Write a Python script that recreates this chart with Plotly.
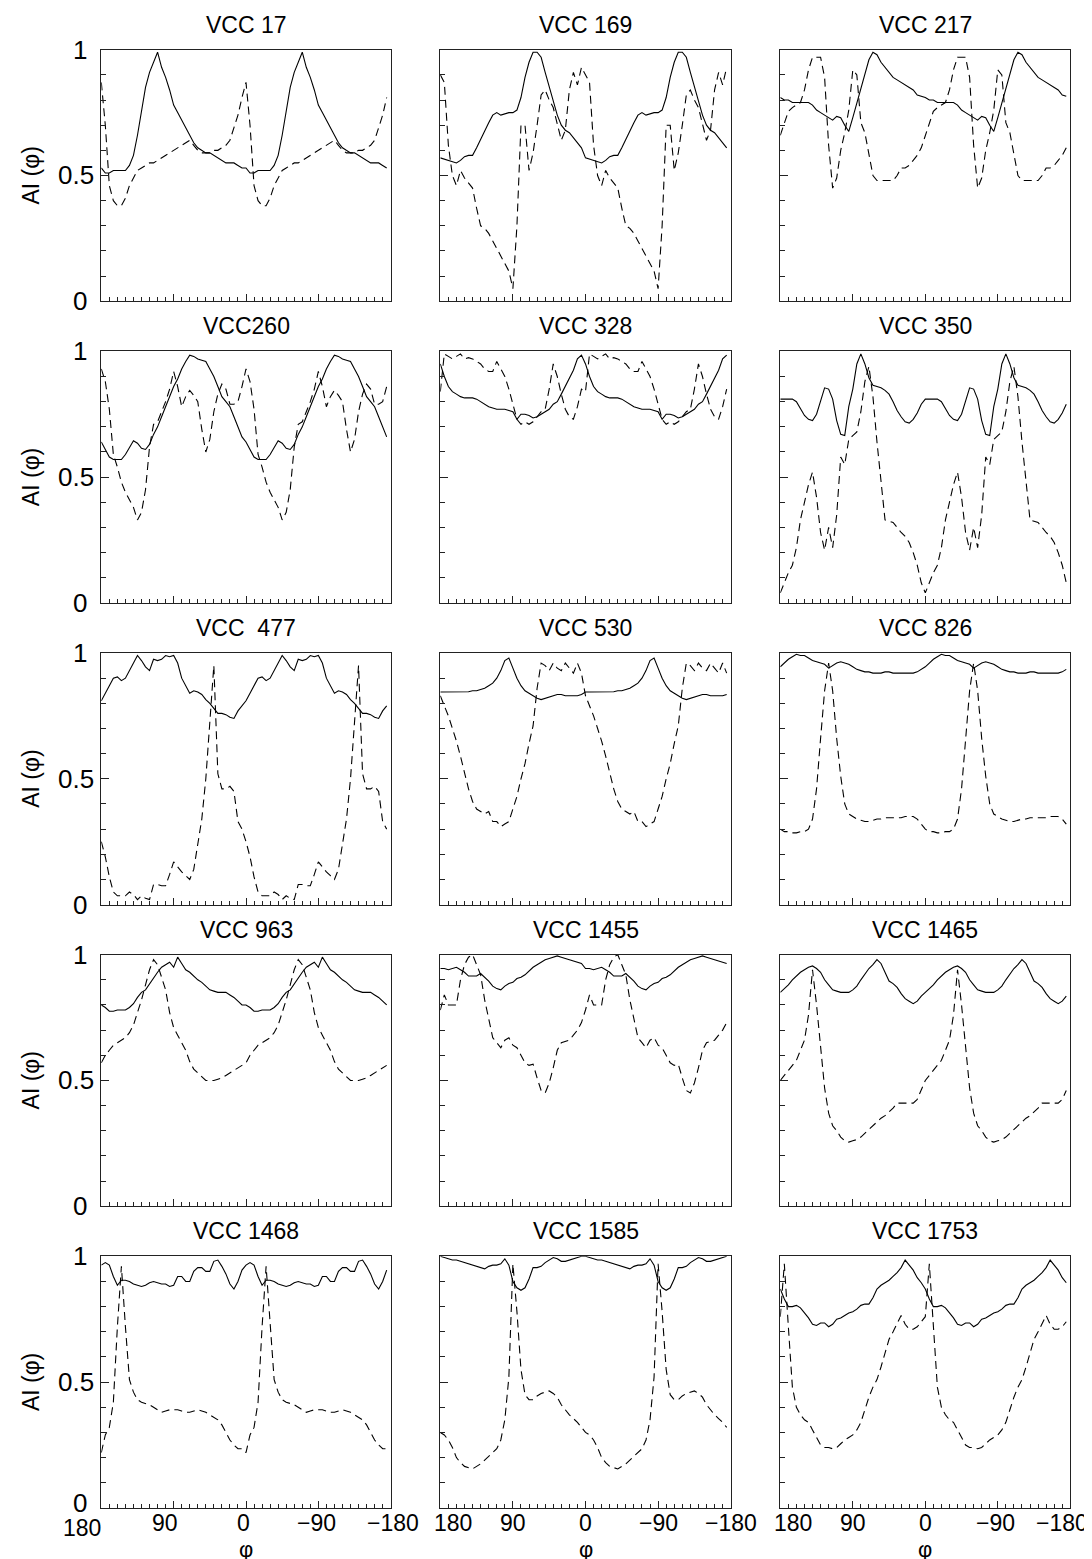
import plotly.graph_objects as go

# phi grid for one half-period (180 -> 5 deg); the profiles repeat every 180 deg
PHI_HALF = [180, 175, 170, 165, 160, 155, 150, 145, 140, 135,
            130, 125, 120, 115, 110, 105, 100, 95, 90, 85,
            80, 75, 70, 65, 60, 55, 50, 45, 40, 35,
            30, 25, 20, 15, 10, 5]

X_TICKS = [180, 90, 0, -90, -180]
X_TICKTEXT = ["180", "90", "0", "\u221290", "\u2212180"]
Y_TICKS = [0, 0.5, 1]
Y_TICKTEXT = ["0", "0.5", "1"]

TITLES = ["VCC 17", "VCC 169", "VCC 217",
          "VCC260", "VCC 328", "VCC 350",
          "VCC\u00a0\u00a0477", "VCC 530", "VCC 826",
          "VCC 963", "VCC 1455", "VCC 1465",
          "VCC 1468", "VCC 1585", "VCC 1753"]

VCC17_S = [.53, .51, .51, .52, .52, .52, .52, .54, .58, .66, .76, .85, .91, .95, .99, .93, .89, .84, .78, .75,
           .72, .69, .66, .63, .61, .60, .59, .59, .58, .57, .56, .55, .55, .55, .54, .53]
VCC17_D = [.87, .70, .46, .40, .38, .38, .41, .46, .49, .52, .53, .54, .55, .55, .56, .57, .58, .59, .60, .61,
           .62, .63, .64, .62, .60, .59, .59, .59, .60, .60, .61, .62, .64, .69, .74, .81]

VCC169_S = [.57, .565, .56, .555, .55, .56, .575, .58, .58, .61, .645, .68, .71, .74, .75, .74, .745, .75, .75, .76,
            .81, .89, .95, .99, .99, .97, .91, .85, .80, .74, .70, .68, .67, .65, .63, .61]
VCC169_D = [.90, .87, .62, .50, .46, .52, .49, .47, .45, .37, .30, .29, .27, .24, .21, .18, .15, .12, .05, .30,
            .70, .70, .52, .59, .70, .82, .84, .80, .77, .70, .64, .68, .84, .91, .86, .93]

VCC217_S = [.81, .80, .80, .79, .79, .79, .79, .79, .78, .76, .75, .74, .73, .72, .735, .73, .70, .675, .73, .79,
            .84, .90, .96, .99, .98, .95, .93, .91, .89, .88, .87, .86, .85, .84, .82, .815]
VCC217_D = [.66, .71, .755, .77, .78, .79, .84, .92, .97, .97, .97, .89, .62, .45, .49, .60, .67, .76, .92, .90,
            .71, .67, .59, .50, .48, .48, .48, .48, .48, .50, .53, .53, .54, .56, .58, .61]

VCC260_S = [.64, .61, .58, .57, .57, .57, .59, .62, .645, .635, .615, .61, .63, .67, .70, .74, .78, .82, .86, .89,
            .93, .96, .985, .98, .97, .965, .96, .93, .90, .86, .82, .80, .78, .74, .70, .66]
VCC260_D = [.93, .88, .77, .59, .54, .48, .44, .41, .38, .33, .36, .45, .62, .71, .72, .76, .80, .85, .92, .86,
            .78, .82, .845, .825, .80, .69, .60, .65, .76, .83, .87, .85, .79, .79, .80, .86]

VCC328_S = [.95, .90, .86, .84, .83, .82, .815, .815, .815, .81, .80, .79, .78, .775, .77, .77, .77, .765, .76, .73,
            .75, .75, .745, .735, .74, .75, .76, .77, .79, .80, .83, .86, .89, .925, .97, .985]
VCC328_D = [.84, .99, .98, .97, .98, .99, .97, .975, .97, .96, .95, .93, .92, .92, .96, .93, .90, .85, .79, .73,
            .71, .72, .71, .72, .74, .76, .77, .85, .95, .90, .83, .77, .74, .73, .78, .85]

VCC350_S = [.81, .81, .81, .81, .80, .775, .745, .73, .725, .75, .80, .855, .85, .81, .725, .67, .665, .78, .85, .95,
            .99, .95, .895, .865, .86, .855, .845, .83, .80, .765, .74, .72, .715, .73, .755, .79]
VCC350_D = [.04, .08, .12, .15, .22, .33, .40, .47, .52, .42, .28, .21, .30, .22, .35, .58, .55, .65, .665, .68,
            .76, .88, .94, .82, .64, .47, .33, .325, .32, .30, .28, .265, .24, .20, .15, .08]

VCC477_S = [.81, .84, .87, .90, .905, .89, .90, .93, .96, .99, .97, .945, .93, .975, .97, .975, .99, .985, .99, .96,
            .90, .87, .84, .85, .845, .835, .815, .80, .78, .76, .76, .755, .745, .74, .77, .79]
VCC477_D = [.25, .19, .11, .05, .035, .035, .035, .05, .04, .02, .035, .025, .02, .08, .08, .075, .075, .12, .17, .15,
            .13, .115, .10, .14, .24, .34, .50, .72, .95, .52, .46, .46, .47, .45, .33, .30]

VCC530_S = [.845, .845, .845, .845, .845, .845, .845, .846, .85, .85, .855, .86, .87, .88, .90, .93, .97, .98, .94, .90,
            .87, .85, .84, .83, .82, .815, .82, .825, .83, .835, .835, .83, .83, .83, .83, .835]
VCC530_D = [.83, .79, .75, .70, .65, .59, .52, .46, .41, .38, .37, .36, .37, .33, .33, .31, .32, .33, .38, .43,
            .50, .56, .64, .71, .86, .96, .95, .93, .96, .94, .93, .96, .94, .92, .96, .92]

VCC826_S = [.945, .96, .975, .985, .995, .99, .99, .98, .97, .965, .96, .955, .94, .95, .96, .965, .96, .955, .945, .935,
            .93, .925, .925, .92, .92, .92, .925, .925, .92, .92, .92, .92, .92, .92, .925, .935]
VCC826_D = [.30, .29, .29, .285, .285, .29, .29, .30, .34, .46, .66, .85, .96, .85, .66, .51, .40, .36, .35, .34,
            .335, .33, .33, .335, .34, .34, .345, .345, .345, .345, .345, .35, .35, .35, .34, .32]

VCC963_S = [.80, .79, .775, .775, .78, .78, .78, .79, .805, .83, .85, .86, .885, .91, .93, .95, .96, .97, .95, .99,
            .965, .94, .93, .915, .90, .89, .875, .86, .855, .85, .85, .85, .84, .83, .815, .80]
VCC963_D = [.57, .60, .62, .64, .65, .66, .67, .69, .72, .77, .82, .88, .94, .98, .96, .91, .86, .77, .71, .68,
            .65, .62, .575, .545, .53, .515, .50, .50, .50, .505, .51, .52, .53, .54, .55, .56]

VCC1455_S = [.945, .945, .94, .945, .95, .94, .93, .915, .915, .915, .925, .91, .895, .875, .865, .86, .875, .885, .89, .905,
             .91, .92, .935, .95, .96, .97, .98, .985, .99, .995, .99, .985, .98, .975, .97, .965]
VCC1455_D = [.78, .84, .80, .80, .80, .90, .96, .99, 1.0, .96, .92, .82, .74, .67, .65, .63, .66, .67, .64, .63,
             .60, .57, .56, .565, .51, .46, .45, .49, .55, .62, .65, .655, .66, .68, .70, .73]

VCC1465_S = [.85, .865, .88, .90, .915, .93, .94, .95, .955, .945, .93, .90, .88, .86, .855, .85, .85, .85, .86, .875,
             .90, .925, .945, .96, .98, .965, .93, .895, .885, .87, .845, .825, .815, .805, .815, .835]
VCC1465_D = [.50, .52, .54, .56, .58, .62, .66, .76, .94, .80, .62, .47, .37, .32, .30, .275, .26, .255, .26, .265,
             .275, .29, .305, .32, .335, .35, .36, .375, .39, .41, .41, .41, .41, .41, .425, .46]

VCC1468_S = [.965, .975, .965, .92, .885, .905, .905, .90, .89, .885, .88, .885, .895, .90, .895, .89, .89, .88, .885, .92,
             .92, .90, .90, .94, .955, .955, .94, .94, .98, .985, .96, .93, .89, .87, .90, .945]
VCC1468_D = [.22, .29, .32, .42, .72, .96, .72, .51, .46, .43, .42, .415, .41, .40, .39, .38, .385, .39, .39, .39,
             .385, .38, .38, .385, .39, .385, .38, .37, .36, .35, .33, .30, .27, .25, .235, .235]

VCC1585_S = [1.0, .995, .99, .985, .985, .98, .975, .97, .965, .96, .955, .95, .96, .965, .965, .97, .99, .965, .90, .875,
             .865, .875, .91, .955, .955, .96, .975, .985, .995, .99, .98, .98, .985, .99, .995, 1.0]
VCC1585_D = [.30, .29, .27, .24, .20, .18, .165, .16, .155, .165, .175, .19, .205, .22, .235, .27, .35, .52, .97, .78,
             .55, .45, .43, .43, .445, .455, .46, .465, .455, .44, .41, .39, .37, .355, .34, .32]

VCC1753_S = [.87, .83, .80, .80, .805, .795, .775, .755, .73, .725, .735, .735, .72, .73, .75, .755, .765, .775, .78, .79,
             .805, .81, .81, .835, .87, .885, .895, .905, .92, .935, .955, .985, .965, .945, .915, .895]
VCC1753_D = [.76, .97, .72, .48, .40, .37, .35, .34, .31, .28, .25, .24, .24, .235, .24, .255, .27, .28, .29, .31,
             .34, .39, .44, .48, .51, .56, .62, .67, .70, .735, .765, .73, .71, .71, .72, .74]

PANELS = [
    (VCC17_S, VCC17_D), (VCC169_S, VCC169_D), (VCC217_S, VCC217_D),
    (VCC260_S, VCC260_D), (VCC328_S, VCC328_D), (VCC350_S, VCC350_D),
    (VCC477_S, VCC477_D), (VCC530_S, VCC530_D), (VCC826_S, VCC826_D),
    (VCC963_S, VCC963_D), (VCC1455_S, VCC1455_D), (VCC1465_S, VCC1465_D),
    (VCC1468_S, VCC1468_D), (VCC1585_S, VCC1585_D), (VCC1753_S, VCC1753_D),
]

# full phi axis: two identical half-periods, 180 ... -175
PHI = PHI_HALF + [p - 180 for p in PHI_HALF]

W, H = 1092, 1559
COL_PX = [(93.3, 382.7), (432.3, 722.7), (772.3, 1062.3)]
ROW_TOP0, ROW_STEP, ROW_H = 41.7, 301.65, 251.6
FONT = "Liberation Sans, Arial, Helvetica, sans-serif"
XTICK_FS, YTICK_FS, TITLE_FS = 23, 26, 23

# horizontal pixel offsets of the bottom tick labels (as placed in the original)
XLAB_SHIFT = {0: [-19, -9, -2.5, -2, 2], 1: [13, 0, 0, 0, 0], 2: [13, 0, 0, -2, -8]}
YLAB_CENTER_PX = [71.5, 67.5, 71.5]

fig = go.Figure()
layout = {}
annotations = []

for i, (solid, dashed) in enumerate(PANELS):
    r, c = divmod(i, 3)
    k = i + 1
    xs = "" if k == 1 else str(k)
    x0, x1 = COL_PX[c]
    top = ROW_TOP0 + r * ROW_STEP
    bot = top + ROW_H
    xd = [x0 / W, x1 / W]
    yd = [1 - bot / H, 1 - top / H]

    fig.add_trace(go.Scatter(x=PHI, y=solid + solid, mode="lines",
                             line=dict(color="black", width=1.1),
                             xaxis="x" + xs, yaxis="y" + xs, showlegend=False))
    fig.add_trace(go.Scatter(x=PHI, y=dashed + dashed, mode="lines",
                             line=dict(color="black", width=1.1, dash="8px,5px"),
                             xaxis="x" + xs, yaxis="y" + xs, showlegend=False))

    layout["xaxis" + xs] = dict(
        domain=xd, anchor="y" + xs, range=[180, -180], showgrid=False, zeroline=False,
        showline=True, mirror=True, linecolor="#222", linewidth=1,
        ticks="inside", ticklen=7, tickwidth=1, tickcolor="#222",
        tickvals=X_TICKS, showticklabels=False,
        minor=dict(ticks="inside", ticklen=4, tickwidth=1, tickcolor="#222",
                   dtick=10, tick0=0, showgrid=False),
    )
    layout["yaxis" + xs] = dict(
        domain=yd, anchor="x" + xs, range=[0, 1], showgrid=False, zeroline=False,
        showline=True, mirror=True, linecolor="#222", linewidth=1,
        ticks="inside", ticklen=8, tickwidth=1, tickcolor="#222",
        tickvals=Y_TICKS, showticklabels=False,
        minor=dict(ticks="inside", ticklen=5, tickwidth=1, tickcolor="#222",
                   dtick=0.1, tick0=0, showgrid=False),
    )

    annotations.append(dict(text=TITLES[i], xref="paper", yref="paper",
                            x=(xd[0] + xd[1]) / 2, y=yd[1], xanchor="center", yanchor="middle",
                            yshift=25, showarrow=False,
                            font=dict(family=FONT, size=TITLE_FS, color="black")))
    if c == 0:
        annotations.append(dict(text="AI (\u03c6)", xref="paper", yref="paper",
                                x=23 / W, y=(yd[0] + yd[1]) / 2, xanchor="center", yanchor="middle",
                                textangle=-90, showarrow=False,
                                font=dict(family=FONT, size=23, color="black")))
        for yv, yt, cx in zip(Y_TICKS, Y_TICKTEXT, YLAB_CENTER_PX):
            ysh = 5 if (r == 4 and yv == 0) else 0
            annotations.append(dict(text=yt, xref="paper", yref="y" + xs,
                                    x=cx / W, y=yv, xanchor="center", yanchor="middle",
                                    yshift=ysh, showarrow=False,
                                    font=dict(family=FONT, size=YTICK_FS, color="black")))
    if r == 4:
        for j, (xv, xt, sh) in enumerate(zip(X_TICKS, X_TICKTEXT, XLAB_SHIFT[c])):
            ysh = -20 if (c == 0 and j == 0) else -15
            annotations.append(dict(text=xt, xref="x" + xs, yref="paper",
                                    x=xv, y=yd[0], xanchor="center", yanchor="middle",
                                    xshift=sh, yshift=ysh, showarrow=False,
                                    font=dict(family=FONT, size=XTICK_FS, color="black")))
        annotations.append(dict(text="\u03c6", xref="paper", yref="paper",
                                x=(xd[0] + xd[1]) / 2, y=yd[0], xanchor="center", yanchor="middle",
                                yshift=-42, showarrow=False,
                                font=dict(family=FONT, size=22, color="black")))

fig.update_layout(width=W, height=H, margin=dict(l=0, r=0, t=0, b=0),
                  paper_bgcolor="white", plot_bgcolor="white",
                  annotations=annotations, **layout)

fig.write_html("out.html")
